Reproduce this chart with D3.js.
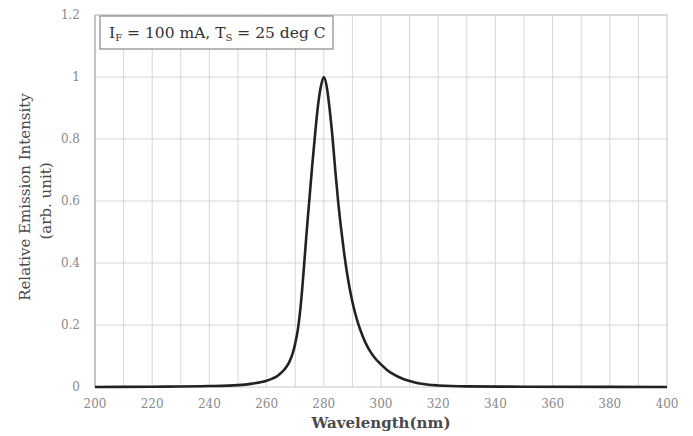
<!DOCTYPE html>
<html>
<head>
<meta charset="UTF-8" />
<script src="https://cdnjs.cloudflare.com/ajax/libs/d3/7.8.5/d3.min.js"></script>
<style>
  body { margin: 0; background: #fff; }
  text { font-family: "DejaVu Serif", "Liberation Serif", serif; }
  .grid line { stroke: #d6d6d6; stroke-width: 1; }
  .tick-label { fill: #8a8a8a; font-size: 12px; }
  .axis-title { fill: #4a4a4a; font-size: 15px; }
  .spectrum { fill: none; stroke: #222; stroke-width: 2.6; }
</style>
</head>
<body>
<svg id="chart" width="693" height="436"></svg>
<script>
// wavelength (nm) and relative intensity
var wavelength = [200, 220, 240, 250, 255, 260, 262, 264, 265, 266, 267, 268, 269, 270, 271, 272, 273, 274, 275, 276, 277, 278, 279, 280,
                  281, 282, 283, 284, 285, 286, 287, 288, 289, 290, 291, 292, 293, 294, 295, 296, 298, 300, 302, 304,
                  306, 308, 310, 313, 316, 320, 330, 350, 400];
var intensity  = [0, 0.001, 0.003, 0.006, 0.011, 0.02, 0.027, 0.037, 0.045, 0.054, 0.066, 0.082, 0.105, 0.14, 0.19, 0.27, 0.38, 0.5, 0.61, 0.72, 0.82, 0.91, 0.97, 1.0,
                  0.97, 0.9, 0.81, 0.7, 0.6, 0.515, 0.44, 0.375, 0.32, 0.275, 0.237, 0.205, 0.178, 0.155, 0.135, 0.118, 0.092, 0.073, 0.056, 0.043,
                  0.033, 0.025, 0.019, 0.012, 0.008, 0.005, 0.002, 0.001, 0];
var xTicks = [200, 220, 240, 260, 280, 300, 320, 340, 360, 380, 400];
var yTicks = [0, 0.2, 0.4, 0.6, 0.8, 1, 1.2];

var svg = d3.select("#chart");
var pLeft = 95, pRight = 667, pTop = 15, pBottom = 387;

var x = d3.scaleLinear().domain([200, 400]).range([pLeft, pRight]);
var y = d3.scaleLinear().domain([0, 1.2]).range([pBottom, pTop]);

var grid = svg.append("g").attr("class", "grid");
grid.selectAll("line.v")
  .data(d3.range(210, 400, 10))
  .enter().append("line")
  .attr("x1", d => x(d)).attr("x2", d => x(d))
  .attr("y1", pTop).attr("y2", pBottom);
grid.selectAll("line.h")
  .data(yTicks.slice(1))
  .enter().append("line")
  .attr("x1", pLeft).attr("x2", pRight)
  .attr("y1", d => y(d)).attr("y2", d => y(d));

svg.append("rect")
  .attr("x", pLeft).attr("y", pTop)
  .attr("width", pRight - pLeft).attr("height", pBottom - pTop)
  .attr("fill", "none").attr("stroke", "#c4c4c4");

svg.append("line")
  .attr("x1", pLeft).attr("x2", pLeft)
  .attr("y1", pTop).attr("y2", pBottom)
  .attr("stroke", "#aaa");

svg.selectAll("text.ylab")
  .data(yTicks)
  .enter().append("text")
  .attr("class", "tick-label")
  .attr("x", pLeft - 15)
  .attr("y", d => y(d) + 4)
  .attr("text-anchor", "end")
  .text(d => d);

svg.selectAll("text.xlab")
  .data(xTicks)
  .enter().append("text")
  .attr("class", "tick-label")
  .attr("x", d => x(d))
  .attr("y", pBottom + 21)
  .attr("text-anchor", "middle")
  .text(d => d);

var line = d3.line()
  .x((d, i) => x(wavelength[i]))
  .y(d => y(d))
  .curve(d3.curveMonotoneX);

svg.append("path")
  .datum(intensity)
  .attr("class", "spectrum")
  .attr("d", line);

// legend box
svg.append("rect")
  .attr("x", 100).attr("y", 16)
  .attr("width", 233).attr("height", 33)
  .attr("fill", "#fff").attr("stroke", "#888").attr("stroke-width", 1.2);

var leg = svg.append("text")
  .attr("x", 109).attr("y", 38)
  .attr("fill", "#333").attr("font-size", "15.5px");
leg.append("tspan").text("I");
leg.append("tspan").attr("font-size", "10px").attr("dy", 3).text("F");
leg.append("tspan").attr("dy", -3).text(" = 100 mA, T");
leg.append("tspan").attr("font-size", "10px").attr("dy", 3).text("S");
leg.append("tspan").attr("dy", -3).text(" = 25 deg C");

svg.append("text")
  .attr("class", "axis-title")
  .attr("x", 381)
  .attr("y", 428)
  .attr("text-anchor", "middle")
  .attr("font-weight", "bold")
  .attr("font-size", "16.5px")
  .text("Wavelength(nm)");

svg.append("text")
  .attr("class", "axis-title")
  .attr("transform", "translate(30," + ((pTop + pBottom) / 2 - 4) + ") rotate(-90)")
  .attr("text-anchor", "middle")
  .text("Relative Emission Intensity");

svg.append("text")
  .attr("class", "axis-title")
  .attr("transform", "translate(51," + ((pTop + pBottom) / 2) + ") rotate(-90)")
  .attr("text-anchor", "middle")
  .text("(arb. unit)");
</script>
</body>
</html>
